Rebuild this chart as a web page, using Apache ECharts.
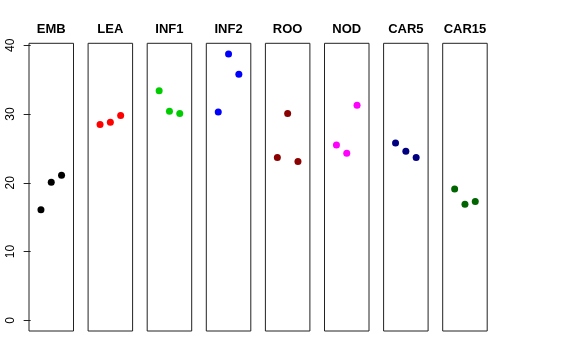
<!DOCTYPE html>
<html>
<head>
<meta charset="utf-8">
<script src="https://cdn.jsdelivr.net/npm/echarts@6/dist/echarts.min.js"></script>
<style>html,body{margin:0;padding:0;background:#fff}#c{width:576px;height:360px}</style>
</head>
<body>
<div id="c"></div>
<script>
var categories = ['EMB','LEA','INF1','INF2','ROO','NOD','CAR5','CAR15'];
var colors = ['#000000','#FF0000','#00CD00','#0000FF','#8B0000','#FF00FF','#000080','#006400'];
var xPositions = [1, 2, 3];
var EMB = [16.1, 20.1, 21.1];
var LEA = [28.5, 28.8, 29.8];
var INF1 = [33.4, 30.4, 30.1];
var INF2 = [30.3, 38.75, 35.8];
var ROO = [23.7, 30.1, 23.1];
var NOD = [25.5, 24.3, 31.3];
var CAR5 = [25.8, 24.6, 23.7];
var CAR15 = [19.1, 16.9, 17.3];
var yTicks = [0, 10, 20, 30, 40];
var seriesValues = [EMB, LEA, INF1, INF2, ROO, NOD, CAR5, CAR15];

var chart = echarts.init(document.getElementById('c'), null, {renderer:'canvas'});
var grids = [], xAxes = [], yAxes = [], series = [], graphics = [];
var gLeft0 = 29, gStep = 59.1, gW = 44.5, gTop = 43.3, gH = 287.7;
for (var i = 0; i < categories.length; i++) {
  var L = gLeft0 + gStep * i;
  grids.push({left: L, top: gTop, width: gW, height: gH, show: true, borderColor: '#222', borderWidth: 1, backgroundColor: 'transparent'});
  xAxes.push({type: 'value', gridIndex: i, min: -0.16, max: 4.16, show: false});
  yAxes.push({
    type: 'value', gridIndex: i, min: -1.55, max: 40.3,
    show: i === 0,
    splitLine: {show: false},
    axisLine: {show: false},
    axisTick: {show: i === 0, length: 7, lineStyle: {color: '#222'}, customValues: yTicks},
    axisLabel: {show: i === 0, rotate: 90, margin: 12, fontSize: 12, color: '#000',
      fontFamily: 'Liberation Sans, Arial, sans-serif', customValues: yTicks}
  });
  series.push({
    type: 'scatter', xAxisIndex: i, yAxisIndex: i, symbol: 'circle', symbolSize: 7,
    itemStyle: {color: colors[i], opacity: 1}, silent: true,
    data: xPositions.map(function (x, k) { return [x, seriesValues[i][k]]; })
  });
  graphics.push({
    type: 'text', x: L + gW / 2, y: 29,
    style: {text: categories[i], fill: '#000', font: 'bold 13px Liberation Sans, Arial, sans-serif',
      textAlign: 'center', textVerticalAlign: 'middle'}
  });
}
chart.setOption({
  animation: false,
  backgroundColor: '#fff',
  grid: grids, xAxis: xAxes, yAxis: yAxes, series: series, graphic: graphics
});
</script>
</body>
</html>
